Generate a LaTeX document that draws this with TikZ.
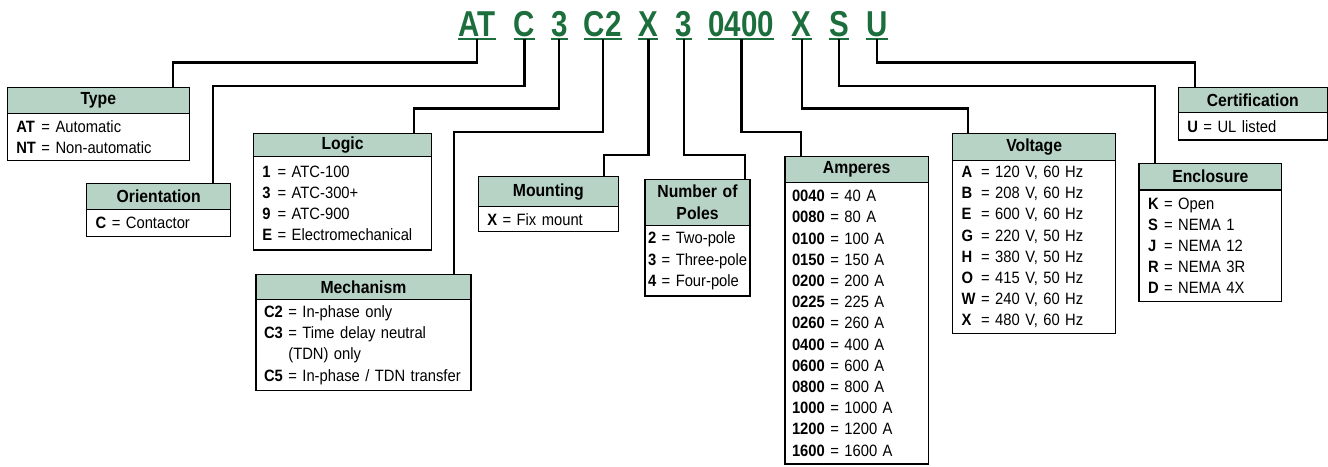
\documentclass[tikz,border=0pt]{standalone}
\usepackage{fontspec}
\setmainfont{Liberation Sans}[FakeStretch=0.9, WordSpace=0.8]
\newfontfamily\codefamily{Liberation Sans}[FakeStretch=0.82]
\definecolor{headgreen}{RGB}{183,211,197}
\definecolor{codegreen}{RGB}{28,110,60}
\newcommand{\listfont}{\fontsize{16.4}{21.2}\selectfont}
\newcommand{\titlefont}{\fontsize{17.5}{22}\selectfont\bfseries}
\newcommand{\partfont}{\codefamily\fontsize{36}{40}\selectfont\bfseries}
\newcommand{\opt}[2]{\mbox{\textbf{#1} = #2}}
\newcommand{\optas}[3]{\mbox{\rlap{\textbf{#2}}\phantom{\textbf{#1}} = #3}}

\begin{document}
\begin{tikzpicture}[x=1pt, y=-1pt]
    \tikzstyle{wire} = [line width=2.2pt]
    \tikzstyle{uline} = [line width=2pt, draw=codegreen]
    \tikzstyle{part} = [font=\partfont, text=codegreen, inner sep=0pt,
        text depth=0pt, anchor=base]
    \tikzstyle{head} = [rectangle, draw=black, line width=1.4pt, fill=headgreen,
        align=center, font=\titlefont, inner xsep=4pt, inner ysep=1pt, outer sep=0pt]
    \tikzstyle{opts} = [rectangle, draw=black, line width=1.4pt, fill=white,
        align=left, font=\listfont, inner xsep=9pt, inner ysep=1pt, outer sep=0pt]

    \useasboundingbox (0,0) rectangle (1328,466);

    % catalog number
    \node(typecode) [part] at (477,36) {AT};
    \node(orientcode) [part] at (524.5,36) {C};
    \node(logiccode) [part] at (559.3,36) {3};
    \node(mechcode) [part] at (602.7,36) {C2};
    \node(mountcode) [part] at (648.4,36) {X};
    \node(polescode) [part] at (684,36) {3};
    \node(ampscode) [part] at (741.4,36) {0400};
    \node(voltcode) [part] at (801.6,36) {X};
    \node(enclcode) [part] at (839.3,36) {S};
    \node(certcode) [part] at (877,36) {U};

    \foreach \code in {typecode, orientcode, logiccode, mechcode, mountcode,
        polescode, ampscode, voltcode, enclcode, certcode}
        \draw[uline] ([yshift=-3pt]\code.south west) -- ([yshift=-3pt]\code.south east);

    % boxes
    \node(type) [head, text width=174pt, minimum height=26pt]
        at (7.3,87.3) [anchor=north west] {Type};
    \node(typeopts) [opts, text width=164pt, minimum height=47.4pt]
        at (type.south west) [anchor=north west]
        {\optas{NT}{AT}{Automatic}\\ \opt{NT}{Non-automatic}};

    \node(orient) [head, text width=136pt, minimum height=26pt]
        at (86.7,183.3) [anchor=north west] {Orientation};
    \node(orientopts) [opts, text width=126pt, minimum height=27.4pt]
        at (orient.south west) [anchor=north west]
        {\opt{C}{Contactor}};

    \node(logic) [head, text width=170.4pt, minimum height=23.4pt]
        at (253.3,133.3) [anchor=north west] {Logic};
    \node(logicopts) [opts, text width=160.4pt, minimum height=93.3pt]
        at (logic.south west) [anchor=north west]
        {\optas{E}{1}{ATC-100}\\ \optas{E}{3}{ATC-300+}\\
         \optas{E}{9}{ATC-900}\\ \opt{E}{Electromechanical}};

    \node(mech) [head, text width=207pt, minimum height=25pt]
        at (256,274.3) [anchor=north west] {Mechanism};
    \node(mechopts) [opts, text width=199pt, inner xsep=8pt, minimum height=91.4pt]
        at (mech.south west) [anchor=north west]
        {\opt{C2}{In-phase only}\\ \opt{C3}{Time delay neutral}\\
         \mbox{\phantom{\textbf{C3}} (TDN) only}\\ \opt{C5}{In-phase / TDN transfer}};

    \node(mount) [head, text width=132pt, minimum height=30pt]
        at (478.3,176.7) [anchor=north west] {Mounting};
    \node(mountopts) [opts, text width=122pt, minimum height=25pt]
        at (mount.south west) [anchor=north west]
        {\opt{X}{Fix mount}};

    \node(poles) [head, text width=97pt, minimum height=46.4pt]
        at (645,179.3) [anchor=north west] {Number of\\Poles};
    \node(polesopts) [opts, text width=99pt, inner xsep=3pt, minimum height=70.3pt]
        at (poles.south west) [anchor=north west]
        {\opt{2}{Two-pole}\\ \opt{3}{Three-pole}\\ \opt{4}{Four-pole}};

    \node(amps) [head, text width=135.3pt, minimum height=26pt]
        at (785,156.7) [anchor=north west] {Amperes};
    \node(ampsopts) [opts, text width=129.3pt, inner xsep=7pt, minimum height=281.3pt]
        at (amps.south west) [anchor=north west]
        {\opt{0040}{40 A}\\ \opt{0080}{80 A}\\ \opt{0100}{100 A}\\
         \opt{0150}{150 A}\\ \opt{0200}{200 A}\\ \opt{0225}{225 A}\\
         \opt{0260}{260 A}\\ \opt{0400}{400 A}\\ \opt{0600}{600 A}\\
         \opt{0800}{800 A}\\ \opt{1000}{1000 A}\\ \opt{1200}{1200 A}\\
         \opt{1600}{1600 A}};

    \node(volt) [head, text width=155pt, minimum height=27.4pt]
        at (952.7,133.3) [anchor=north west] {Voltage};
    \node(voltopts) [opts, text width=145pt, minimum height=172.6pt]
        at (volt.south west) [anchor=north west]
        {\optas{W}{A}{120 V, 60 Hz}\\ \optas{W}{B}{208 V, 60 Hz}\\
         \optas{W}{E}{600 V, 60 Hz}\\ \optas{W}{G}{220 V, 50 Hz}\\
         \optas{W}{H}{380 V, 50 Hz}\\ \optas{W}{O}{415 V, 50 Hz}\\
         \opt{W}{240 V, 60 Hz}\\ \optas{W}{X}{480 V, 60 Hz}};

    \node(encl) [head, text width=134.7pt, minimum height=26.7pt]
        at (1139,163.3) [anchor=north west] {Enclosure};
    \node(enclopts) [opts, text width=124.7pt, minimum height=111.7pt]
        at (encl.south west) [anchor=north west]
        {\optas{K}{K}{Open}\\ \optas{K}{S}{NEMA 1}\\ \optas{K}{J}{NEMA 12}\\
         \optas{K}{R}{NEMA 3R}\\ \optas{K}{D}{NEMA 4X}};

    \node(cert) [head, text width=141pt, minimum height=25.4pt]
        at (1178.3,87.3) [anchor=north west] {Certification};
    \node(certopts) [opts, text width=131pt, minimum height=27.3pt]
        at (cert.south west) [anchor=north west]
        {\opt{U}{UL listed}};

    % leaders
    \foreach \code/\drop/\field/\dx in {typecode/23.3/type/165.7,
        orientcode/46.7/orient/126.3, logiccode/69.3/logic/160.7,
        mechcode/92.7/mech/198, mountcode/116/mount/125.7,
        polescode/116/poles/100, ampscode/92.7/amps/16,
        voltcode/69.3/volt/15.6, enclcode/46.7/encl/16, certcode/23.3/cert/16.7}
        \draw[wire] ([yshift=-3pt]\code.south) -- ++(0,\drop)
            -| ([xshift=\dx pt]\field.north west);
\end{tikzpicture}
\end{document}
